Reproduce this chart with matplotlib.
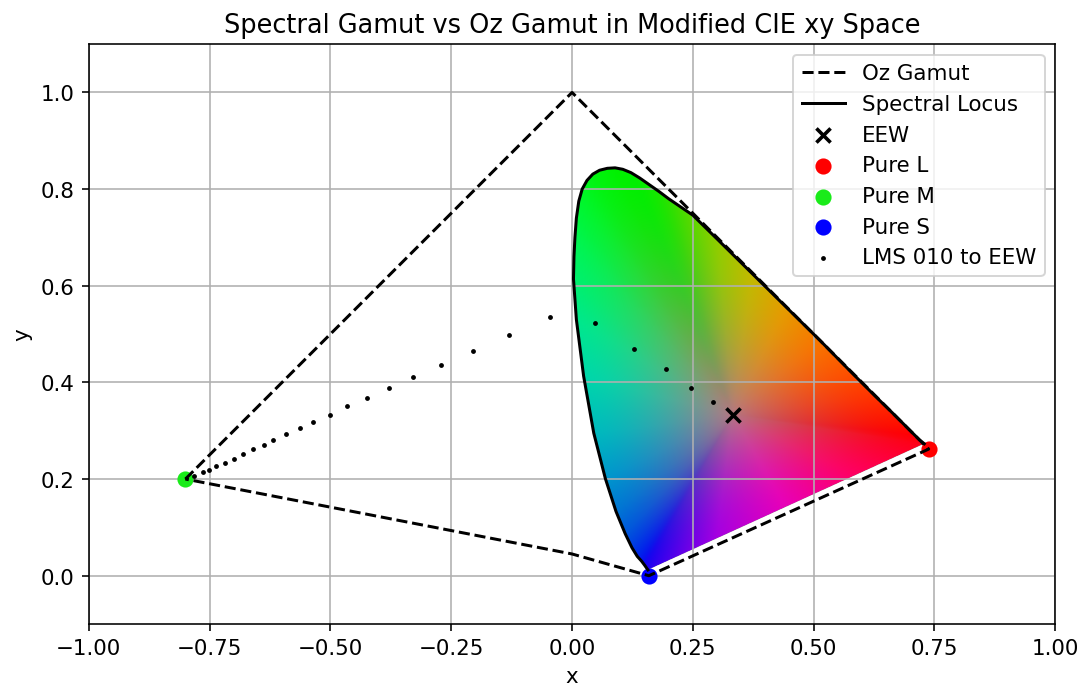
import numpy as np
import matplotlib
matplotlib.use("Agg")
import matplotlib.pyplot as plt
import matplotlib.tri as mtri
from matplotlib.patches import Polygon

plt.rcParams["font.size"] = 10.7

# Spectral locus in the modified xy space, short-wavelength end first
locus_x = [0.157, 0.150, 0.144, 0.135, 0.124, 0.110, 0.091, 0.069, 0.045, 0.024,
           0.009, 0.003, 0.004, 0.006, 0.009, 0.014, 0.021, 0.031, 0.043, 0.057,
           0.073, 0.089, 0.105, 0.122, 0.140, 0.160, 0.180, 0.200, 0.250, 0.302,
           0.373, 0.444, 0.513, 0.575, 0.627, 0.666, 0.692, 0.708, 0.719, 0.729]
locus_y = [0.012, 0.022, 0.030, 0.040, 0.058, 0.087, 0.133, 0.201, 0.295, 0.413,
           0.530, 0.614, 0.660, 0.700, 0.740, 0.775, 0.800, 0.818, 0.831, 0.839,
           0.843, 0.844, 0.841, 0.834, 0.823, 0.809, 0.795, 0.780, 0.746, 0.695,
           0.625, 0.555, 0.487, 0.424, 0.372, 0.334, 0.308, 0.292, 0.281, 0.273]

# display colour at each locus point
locus_rgb = [(35, 0, 240), (20, 5, 240), (5, 20, 238), (0, 38, 235), (0, 60, 228),
             (0, 88, 220), (0, 118, 212), (0, 150, 205), (0, 185, 190), (0, 215, 170),
             (0, 232, 140), (0, 240, 110), (0, 243, 95), (0, 245, 80), (0, 246, 62),
             (0, 247, 48), (0, 247, 36), (0, 246, 25), (0, 245, 16), (0, 244, 10),
             (0, 243, 5), (0, 242, 0), (0, 241, 0), (0, 240, 0), (5, 238, 0),
             (15, 235, 0), (28, 230, 0), (45, 225, 0), (95, 215, 0), (145, 205, 0),
             (195, 185, 0), (230, 155, 0), (248, 118, 0), (254, 82, 0), (255, 52, 0),
             (255, 28, 0), (255, 12, 0), (255, 0, 5), (255, 0, 12), (255, 0, 22)]
# colours along the line of purples, red end -> blue end
purple_rgb = [(255, 0, 100), (232, 0, 185), (165, 0, 225)]
center_rgb = (180, 118, 130)

# Oz gamut outline
oz_x = [-0.8, 0.0, 0.738, 0.159, 0.0, -0.8]
oz_y = [0.2, 1.0, 0.262, 0.0, 0.045, 0.2]

eew = (1 / 3, 1 / 3)
pure_l = (0.738, 0.262)
pure_m = (-0.8, 0.2)
pure_s = (0.159, 0.0)

# LMS (0,1,0) -> equal-energy white path
path_x = [-0.783, -0.764, -0.752, -0.736, -0.719, -0.700, -0.680, -0.661, -0.638,
          -0.618, -0.591, -0.562, -0.535, -0.500, -0.465, -0.424, -0.378, -0.329,
          -0.271, -0.205, -0.130, -0.045, 0.048, 0.128, 0.194, 0.246, 0.291]
path_y = [0.207, 0.215, 0.219, 0.227, 0.233, 0.242, 0.252, 0.262, 0.271,
          0.281, 0.293, 0.306, 0.318, 0.333, 0.351, 0.368, 0.388, 0.411,
          0.436, 0.465, 0.498, 0.535, 0.523, 0.469, 0.428, 0.388, 0.360]

# ---- colour fill: fan of triangles from the white point to the boundary ----
bx = list(locus_x)
by = list(locus_y)
cols = [np.array(c) / 255 for c in locus_rgb]
n_p = len(purple_rgb)
for k, c in enumerate(purple_rgb):
    t = (k + 1) / (n_p + 1)
    bx.append(locus_x[-1] + t * (locus_x[0] - locus_x[-1]))
    by.append(locus_y[-1] + t * (locus_y[0] - locus_y[-1]))
    cols.append(np.array(c) / 255)
nb = len(bx)
vx = np.array(bx + [eew[0]])
vy = np.array(by + [eew[1]])
cols = np.array(cols + [np.zeros(3)])
tris = [[nb, i, (i + 1) % nb] for i in range(nb)]
tri = mtri.Triangulation(vx, vy, tris)

gx = np.linspace(-0.02, 0.76, 700)
gy = np.linspace(-0.01, 0.86, 780)
GX, GY = np.meshgrid(gx, gy)

# weight of the white point inside each fan triangle
wc = mtri.LinearTriInterpolator(tri, np.r_[np.zeros(nb), 1.0])(GX, GY)
mask = np.ma.getmaskarray(wc)
wc = np.clip(wc.filled(0.0), 0, 0.999)
# fade towards the white-point colour mostly close to it
fade = wc ** 1.6

img = np.ones((len(gy), len(gx), 4))
for ch in range(3):
    edge = mtri.LinearTriInterpolator(tri, cols[:, ch])(GX, GY).filled(0.0) / (1 - wc)
    img[..., ch] = np.clip((1 - fade) * edge + fade * center_rgb[ch] / 255, 0, 1)
img[..., 3] = np.where(mask, 0.0, 1.0)

fig = plt.figure(figsize=(7.5, 4.77), dpi=144)
ax = fig.add_axes([0.0815, 0.0902, 0.8963, 0.8443])

im = ax.imshow(img, origin="lower", extent=(gx[0], gx[-1], gy[0], gy[-1]),
               interpolation="bilinear", zorder=0)
clip = Polygon(np.column_stack([locus_x, locus_y]), closed=True,
               transform=ax.transData, facecolor="none", edgecolor="none")
ax.add_patch(clip)
im.set_clip_path(clip)

ax.plot(oz_x, oz_y, "k--", lw=1.5, label="Oz Gamut")
ax.plot(locus_x, locus_y, "k-", lw=1.5, label="Spectral Locus")
ax.scatter(*eew, marker="x", color="black", s=50, linewidths=1.8, zorder=3, label="EEW")
ax.scatter(*pure_l, color="red", s=50, zorder=1.8, label="Pure L")
ax.scatter(*pure_m, color="#1aeb1a", s=50, zorder=1.8, label="Pure M")
ax.scatter(*pure_s, color="blue", s=50, zorder=1.8, label="Pure S")
ax.scatter(path_x, path_y, color="black", s=2, zorder=3, label="LMS 010 to EEW")

ax.set_xlim(-1, 1)
ax.set_ylim(-0.1, 1.1)
ax.set_aspect("equal")
ax.grid(True)
ax.set_xlabel("x")
ax.set_ylabel("y")
ax.set_title("Spectral Gamut vs Oz Gamut in Modified CIE xy Space")
ax.legend(loc="upper right")

fig.savefig("out.png", dpi=144)
